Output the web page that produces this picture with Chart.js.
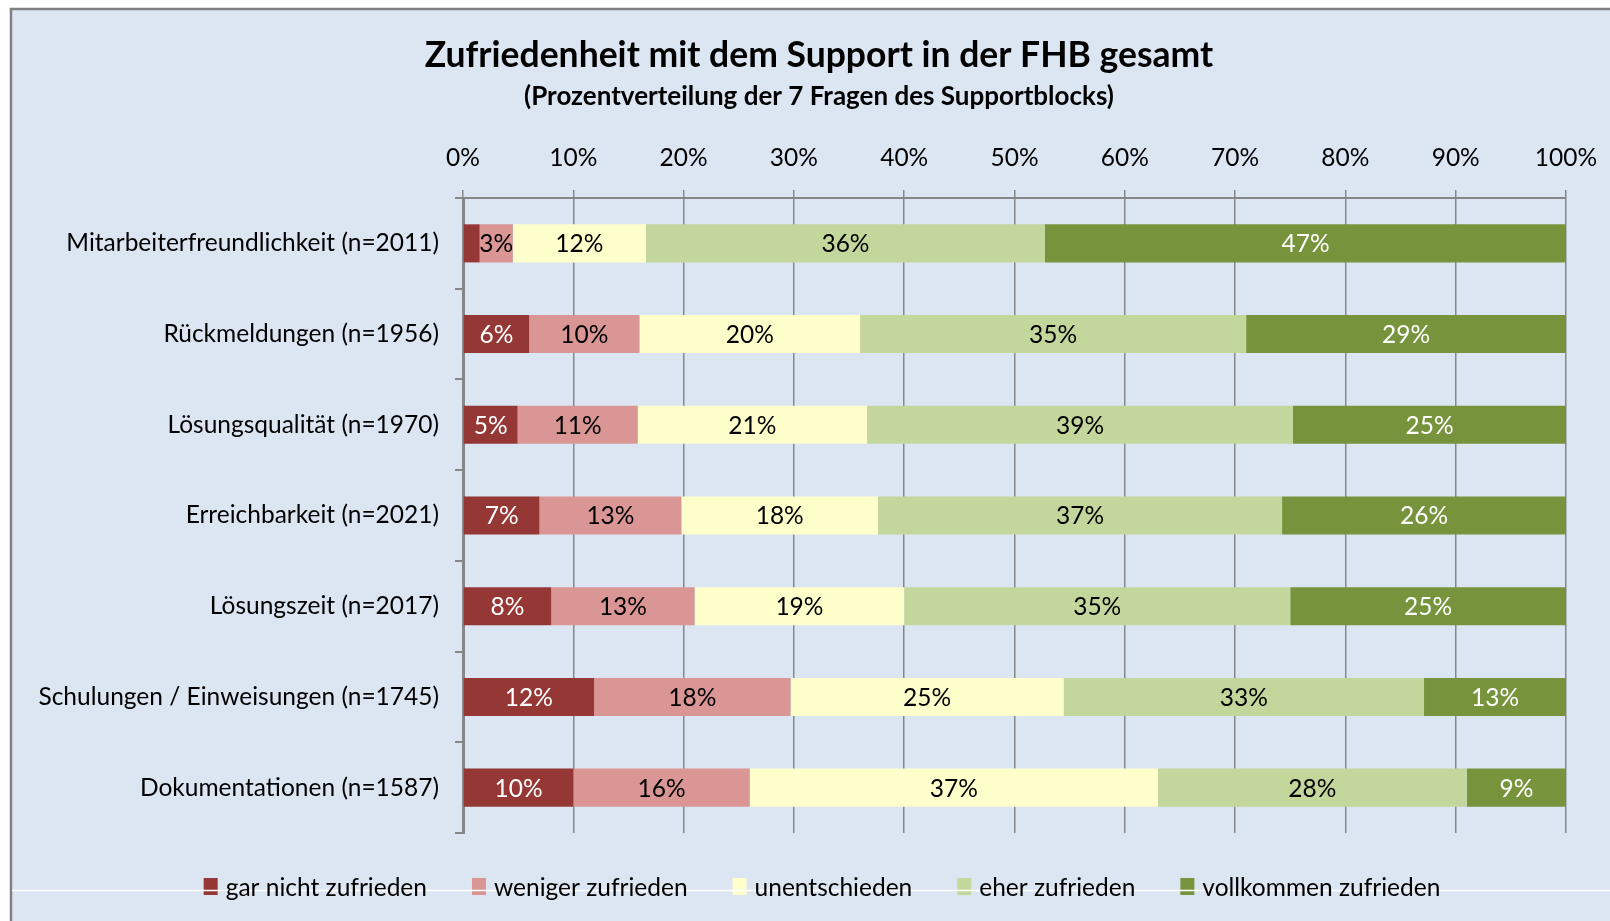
<!DOCTYPE html>
<html lang="de">
<head>
<meta charset="utf-8">
<title>Zufriedenheit mit dem Support in der FHB gesamt</title>
<script src="https://cdn.jsdelivr.net/npm/chart.js@4.4.1/dist/chart.umd.min.js"></script>
<style>
  html, body { margin: 0; padding: 0; background: #ffffff; overflow: hidden; }
  #wrap { position: relative; width: 1610px; height: 921px; }
  canvas { display: block; }
</style>
</head>
<body>
<div id="wrap"><canvas id="chart" width="1610" height="921"></canvas></div>
<script>
// Fragen des Supportblocks (mit Anzahl Antworten)
const categories = [
  "Mitarbeiterfreundlichkeit (n=2011)",
  "Rückmeldungen (n=1956)",
  "Lösungsqualität (n=1970)",
  "Erreichbarkeit (n=2021)",
  "Lösungszeit (n=2017)",
  "Schulungen / Einweisungen (n=1745)",
  "Dokumentationen (n=1587)"
];

// Prozentwerte je Antwortkategorie
const garNichtZufrieden   = [1.5, 6, 5, 7, 8, 12, 10];
const wenigerZufrieden    = [3, 10, 11, 13, 13, 18, 16];
const unentschieden       = [12, 20, 21, 18, 19, 25, 37];
const eherZufrieden       = [36, 35, 39, 37, 35, 33, 28];
const vollkommenZufrieden = [47, 29, 25, 26, 25, 13, 9];

const seriesNames = ["gar nicht zufrieden", "weniger zufrieden", "unentschieden", "eher zufrieden", "vollkommen zufrieden"];
const xTicks = [0, 10, 20, 30, 40, 50, 60, 70, 80, 90, 100];

const titleText = "Zufriedenheit mit dem Support in der FHB gesamt";
const subtitleText = "(Prozentverteilung der 7 Fragen des Supportblocks)";

const series = [garNichtZufrieden, wenigerZufrieden, unentschieden, eherZufrieden, vollkommenZufrieden];
const fills = ["#953735", "#d99694", "#ffffcc", "#c3d69b", "#77933c"];
const labelColors = ["#ffffff", "#000000", "#000000", "#000000", "#ffffff"];

// 100%-gestapelt: jede Zeile wird auf ihre Summe bezogen
const rowSums = categories.map((_, i) => series.reduce((s, arr) => s + arr[i], 0));

const FONT = "Lato, 'Open Sans', sans-serif";
const FS = 24.5;

const datasets = series.map((arr, k) => ({
  label: seriesNames[k],
  data: arr.map((v, i) => v / rowSums[i] * 100),
  raw: arr,
  backgroundColor: fills[k],
  borderWidth: 0,
  barPercentage: 0.42,
  categoryPercentage: 1.0
}));

// Hintergrund mit Rahmen oben und links
const framePlugin = {
  id: "frame",
  beforeDraw(chart) {
    const ctx = chart.ctx;
    ctx.save();
    ctx.fillStyle = "#ffffff";
    ctx.fillRect(0, 0, chart.width, chart.height);
    ctx.fillStyle = "#dce6f2";
    ctx.fillRect(11, 9, chart.width - 11, chart.height - 9);
    ctx.strokeStyle = "#808080";
    ctx.lineWidth = 2.5;
    ctx.beginPath();
    ctx.moveTo(11, chart.height);
    ctx.lineTo(11, 9);
    ctx.lineTo(chart.width, 9);
    ctx.stroke();
    ctx.restore();
  }
};

// Prozentbeschriftung in der Mitte jedes Balkensegments
const valueLabelPlugin = {
  id: "valueLabels",
  afterDatasetsDraw(chart) {
    const ctx = chart.ctx;
    ctx.save();
    ctx.font = FS + "px " + FONT;
    ctx.textAlign = "center";
    ctx.textBaseline = "middle";
    chart.data.datasets.forEach((ds, k) => {
      const meta = chart.getDatasetMeta(k);
      meta.data.forEach((bar, i) => {
        const v = ds.raw[i];
        if (v < 2) return;
        const cx = (bar.x + bar.base) / 2;
        ctx.fillStyle = labelColors[k];
        ctx.fillText(Math.round(v) + "%", cx, bar.y + 1);
      });
    });
    ctx.restore();
  }
};

// Titel, Untertitel und Legende
const textPlugin = {
  id: "texts",
  afterDraw(chart) {
    const ctx = chart.ctx;
    const cx = 819;
    ctx.save();
    ctx.fillStyle = "#000000";
    ctx.textAlign = "center";
    ctx.textBaseline = "middle";
    ctx.font = "bold 35.5px " + FONT;
    ctx.fillText(titleText, cx, 56);
    ctx.font = "bold 26px " + FONT;
    ctx.fillText(subtitleText, cx, 97);

    // Legende
    ctx.font = FS + "px " + FONT;
    const boxW = 14, boxH = 17, gapText = 8, gapItem = 45;
    const items = chart.data.datasets.map(ds => ({ text: ds.label, color: ds.backgroundColor, w: ctx.measureText(ds.label).width }));
    const total = items.reduce((s, it) => s + boxW + gapText + it.w, 0) + gapItem * (items.length - 1);
    let x = 822 - total / 2;
    const ly = 888;
    const pos = [];
    items.forEach(it => {
      ctx.fillStyle = it.color;
      ctx.fillRect(x, ly - 10, boxW, boxH);
      pos.push(x + boxW + gapText);
      x += boxW + gapText + it.w + gapItem;
    });
    ctx.strokeStyle = "#ffffff";
    ctx.lineWidth = 1.5;
    ctx.beginPath();
    ctx.moveTo(12, 890.5);
    ctx.lineTo(chart.width, 890.5);
    ctx.stroke();
    ctx.fillStyle = "#000000";
    ctx.textAlign = "left";
    items.forEach((it, k) => ctx.fillText(it.text, pos[k], ly));
    ctx.restore();
  }
};

new Chart(document.getElementById("chart"), {
  type: "bar",
  data: { labels: categories, datasets },
  plugins: [framePlugin, valueLabelPlugin, textPlugin],
  options: {
    indexAxis: "y",
    responsive: false,
    animation: false,
    devicePixelRatio: 1,
    layout: { padding: { left: 0, right: 44, top: 130, bottom: 88 } },
    plugins: {
      legend: { display: false },
      title: { display: false },
      tooltip: { enabled: false }
    },
    scales: {
      x: {
        position: "top",
        stacked: true,
        min: 0,
        max: 100,
        afterFit(scale) {
          scale.height = 68;
          scale.paddingLeft = 0;
          scale.paddingRight = 0;
        },
        afterBuildTicks(scale) { scale.ticks = xTicks.map(v => ({ value: v })); },
        ticks: {
          padding: 17,
          color: "#000000",
          font: { family: FONT, size: FS },
          callback: v => v + "%"
        },
        grid: { color: "#878787", lineWidth: 1.5, tickLength: 8, drawTicks: true },
        border: { color: "#878787", width: 2 }
      },
      y: {
        stacked: true,
        afterFit(scale) {
          scale.width = 463;
          scale.paddingTop = 0;
          scale.paddingBottom = 0;
        },
        ticks: {
          padding: 16,
          color: "#000000",
          font: { family: FONT, size: FS }
        },
        grid: { drawOnChartArea: false, offset: true, tickLength: 8, color: "#878787", lineWidth: 2 },
        border: { color: "#878787", width: 3 }
      }
    }
  }
});
</script>
</body>
</html>
